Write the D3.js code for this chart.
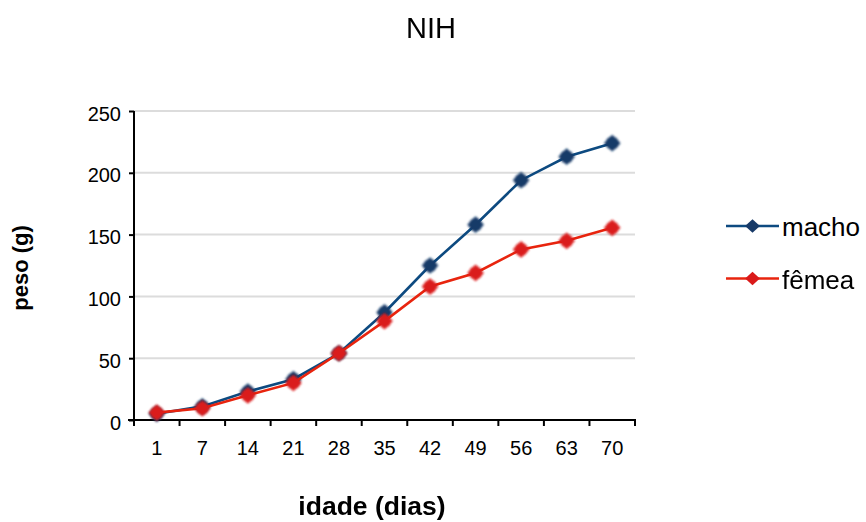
<!DOCTYPE html>
<html>
<head>
<meta charset="utf-8">
<script src="https://cdn.jsdelivr.net/npm/d3@7/dist/d3.min.js"></script>
<style>
  body { margin: 0; background: #fff; }
  text { font-family: "Liberation Sans", Arial, sans-serif; fill: #000; }
</style>
</head>
<body>
<svg id="chart" width="866" height="522"></svg>
<script>
// Body weight (g) by age (days), NIH strain
const ages = ["1", "7", "14", "21", "28", "35", "42", "49", "56", "63", "70"];
const macho = [5, 11, 23, 33, 54, 87, 125, 158, 194, 213, 224];
const femea = [6, 9.5, 20, 30, 54, 80, 108, 119, 138, 145, 155.5];
const yTicks = [0, 50, 100, 150, 200, 250];

const seriesList = [
  { name: "macho", values: macho, line: "#0d4a80", marker: "#173a68" },
  { name: "fêmea", values: femea, line: "#e8240e", marker: "#da1a1a" }
];

const svg = d3.select("#chart");
const plot = { left: 134, right: 635, top: 111, bottom: 420 };

const x = d3.scaleBand().domain(ages).range([plot.left, plot.right]);
const y = d3.scaleLinear().domain([0, 250]).range([plot.bottom, plot.top]);

// soft edges on the data markers
const defs = svg.append("defs");
defs.append("filter").attr("id", "soft")
  .attr("x", "-50%").attr("y", "-50%").attr("width", "200%").attr("height", "200%")
  .append("feGaussianBlur").attr("stdDeviation", 1);

// horizontal gridlines
svg.append("g").selectAll("line")
  .data(yTicks.filter(d => d > 0))
  .join("line")
  .attr("x1", plot.left).attr("x2", plot.right)
  .attr("y1", d => y(d)).attr("y2", d => y(d))
  .attr("stroke", "#dcdcdc").attr("stroke-width", 2);

// axes
const yAxis = svg.append("g")
  .attr("transform", `translate(${plot.left},0)`)
  .call(d3.axisLeft(y).tickValues(yTicks).tickSizeInner(5).tickSizeOuter(0).tickPadding(8));
yAxis.selectAll(".tick text").attr("dy", null).attr("y", 9);

const xAxis = svg.append("g")
  .attr("transform", `translate(0,${plot.bottom})`)
  .call(d3.axisBottom(x).tickSize(0).tickPadding(0));
xAxis.selectAll(".tick text").attr("dy", null).attr("y", 35);

[yAxis, xAxis].forEach(g => {
  g.select(".domain").attr("stroke", "#000").attr("stroke-width", 2);
  g.selectAll(".tick line").attr("stroke", "#000").attr("stroke-width", 2);
  g.selectAll("text").style("font-size", "20px").style("font-family", "Liberation Sans, Arial, sans-serif").attr("fill", "#000");
});
yAxis.select(".domain").attr("d", `M0,${plot.bottom + 1}V${plot.top}`);
xAxis.select(".domain").attr("d", `M${plot.left - 6},0H${plot.right + 1}`);

// x tick marks at the category boundaries
const bounds = ages.map(a => x(a)).concat([plot.right]);
xAxis.append("g").selectAll("line")
  .data(bounds)
  .join("line")
  .attr("x1", d => d).attr("x2", d => d)
  .attr("y1", 0).attr("y2", 6)
  .attr("stroke", "#000").attr("stroke-width", 2);

const cx = a => x(a) + x.bandwidth() / 2;
const line = d3.line().x((d, i) => cx(ages[i])).y(d => y(d));
const square = d3.symbol().type(d3.symbolSquare);

seriesList.forEach(s => {
  svg.append("path")
    .datum(s.values)
    .attr("d", line)
    .attr("fill", "none")
    .attr("stroke", s.line)
    .attr("stroke-width", 2.6);
  const m = svg.append("g").attr("filter", "url(#soft)");
  m.selectAll("path")
    .data(s.values)
    .join("path")
    .attr("transform", (d, i) => `translate(${cx(ages[i])},${y(d)}) rotate(45)`)
    .attr("d", square.size(140))
    .attr("fill", s.marker);
  m.selectAll("circle")
    .data(s.values)
    .join("circle")
    .attr("cx", (d, i) => cx(ages[i]))
    .attr("cy", d => y(d))
    .attr("r", 6.6)
    .attr("fill", s.marker);
});

// legend
const legend = svg.append("g");
seriesList.forEach((s, i) => {
  const ly = 226 + i * 52.5;
  legend.append("line")
    .attr("x1", 726).attr("x2", 779).attr("y1", ly).attr("y2", ly)
    .attr("stroke", s.line).attr("stroke-width", 2.6);
  legend.append("path")
    .attr("transform", `translate(752.5,${ly}) scale(1.1,1) rotate(45)`)
    .attr("d", square.size(90))
    .attr("fill", s.marker);
  legend.append("text")
    .attr("x", 782).attr("y", ly + 10)
    .style("font-size", "26px")
    .text(s.name);
});

// titles
svg.append("text")
  .attr("x", 431).attr("y", 38)
  .attr("text-anchor", "middle")
  .style("font-size", "29px")
  .text("NIH");
svg.append("text")
  .attr("x", 372).attr("y", 515)
  .attr("text-anchor", "middle")
  .style("font-size", "26.5px").style("font-weight", "bold")
  .text("idade (dias)");
svg.append("text")
  .attr("transform", "translate(28,268) rotate(-90)")
  .attr("text-anchor", "middle")
  .style("font-size", "22px").style("font-weight", "bold")
  .text("peso (g)");
</script>
</body>
</html>
